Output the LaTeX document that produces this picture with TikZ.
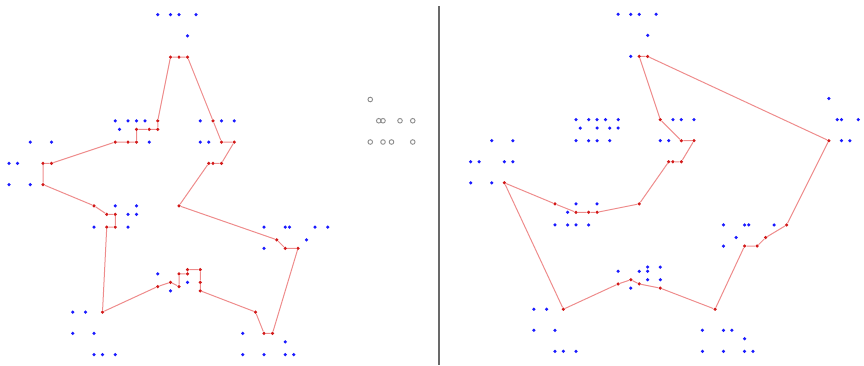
\documentclass[tikz,border=0pt]{standalone}
\begin{document}
\definecolor{dotblue}{RGB}{25,25,255}
\definecolor{dotred}{RGB}{210,25,25}
\definecolor{edgered}{RGB}{238,140,140}
\definecolor{ringgray}{RGB}{140,140,140}
\definecolor{divgray}{RGB}{105,105,105}
\tikzset{
  bdot/.style={circle, fill=dotblue, inner sep=0pt, minimum size=3.5pt},
  rdot/.style={circle, fill=dotred, inner sep=0pt, minimum size=3.5pt},
  hollow/.style={circle, draw=ringgray, line width=0.9pt, inner sep=0pt, minimum size=4.6pt},
  edge/.style={draw=edgered, line width=1pt, line join=round},
  divider/.style={draw=divgray, line width=1.4pt},
}
\begin{tikzpicture}[x=1pt, y=-1pt]
\useasboundingbox (0,0) rectangle (864,365);

% separator between the two panels
\coordinate (divtop) at (439,6);
\coordinate (divbot) at (439,365);
\draw[divider] (divtop) -- (divbot);

% ---------------- left panel ----------------
\begin{scope}[shift={(9,14.5)}, x=4.25pt, y=-4.25pt]
  \foreach \c/\r in {38/10,40/10,42/10,48/25,50/30,53/30,50/35,48/35,47/35,40/45,
      63/53,65/55,68/55,62/75,60/75,58/70,45/65,45/63,45/60,42/60,42/61,40/61,
      40/64,38/63,35/64,22/70,23/50,25/50,25/47,23/47,20/45,8/40,8/35,10/35,
      25/30,28/30,30/30,30/27,33/27,35/27,35/25}
    \node[rdot] (L-\c-\r) at (\c,\r) {};
  \foreach \c/\r in {35/0,38/0,40/0,44/0, 42/5,
      25/25,28/25,30/25,32/25,45/25,50/25,53/25, 26/27,
      5/30,10/30,33/30,45/30,47/30, 0/35,2/35, 0/40,5/40,
      25/45,30/45, 28/47,30/47,
      20/50,28/50,60/50,65/50,66/50,72/50,75/50, 70/53, 60/55,
      35/61, 42/63, 38/65, 15/70,18/70, 15/75,20/75,55/75, 65/77,
      20/80,22/80,25/80,55/80,60/80,65/80,67/80}
    \node[bdot] (L-\c-\r) at (\c,\r) {};
  \foreach \c/\r in {85/20, 87/25,88/25,92/25,95/25, 85/30,88/30,90/30,95/30}
    \node[hollow] (L-\c-\r) at (\c,\r) {};
  \draw[edge] (L-38-10) -- (L-40-10) -- (L-42-10) -- (L-48-25) -- (L-50-30)
    -- (L-53-30) -- (L-50-35) -- (L-48-35) -- (L-47-35) -- (L-40-45)
    -- (L-63-53) -- (L-65-55) -- (L-68-55) -- (L-62-75) -- (L-60-75)
    -- (L-58-70) -- (L-45-65) -- (L-45-63) -- (L-45-60) -- (L-42-60)
    -- (L-42-61) -- (L-40-61) -- (L-40-64) -- (L-38-63) -- (L-35-64)
    -- (L-22-70) -- (L-23-50) -- (L-25-50) -- (L-25-47) -- (L-23-47)
    -- (L-20-45) -- (L-8-40) -- (L-8-35) -- (L-10-35) -- (L-25-30)
    -- (L-28-30) -- (L-30-30) -- (L-30-27) -- (L-33-27) -- (L-35-27)
    -- (L-35-25) -- (L-38-10);
\end{scope}

% ---------------- right panel ----------------
\begin{scope}[shift={(470.7,14.3)}, x=4.213pt, y=-4.213pt]
  \foreach \c/\r in {40/10,42/10,85/30,75/50,70/53,68/55,65/55,58/70,45/65,
      40/64,38/63,35/64,22/70,8/40,20/45,25/47,28/47,30/47,40/45,47/35,48/35,
      50/35,53/30,50/30,45/25}
    \node[rdot] (R-\c-\r) at (\c,\r) {};
  \foreach \c/\r in {35/0,38/0,40/0,44/0, 42/5, 38/10, 85/20,
      25/25,28/25,30/25,32/25,35/25,48/25,50/25,53/25,87/25,88/25,92/25,
      26/27,30/27,33/27,35/27,
      5/30,10/30,25/30,28/30,30/30,33/30,45/30,47/30,88/30,90/30,
      0/35,2/35,8/35,10/35, 0/40,5/40, 25/45,30/45, 23/47,
      20/50,23/50,25/50,28/50,60/50,65/50,66/50,72/50, 63/53, 60/55,
      42/60,45/60, 35/61,40/61,42/61, 42/63,45/63, 38/65,
      15/70,18/70, 15/75,20/75,55/75,60/75,62/75, 65/77,
      20/80,22/80,25/80,55/80,60/80,65/80,67/80}
    \node[bdot] (R-\c-\r) at (\c,\r) {};
  \draw[edge] (R-40-10) -- (R-42-10) -- (R-85-30) -- (R-75-50) -- (R-70-53)
    -- (R-68-55) -- (R-65-55) -- (R-58-70) -- (R-45-65) -- (R-40-64)
    -- (R-38-63) -- (R-35-64) -- (R-22-70) -- (R-8-40) -- (R-20-45)
    -- (R-25-47) -- (R-28-47) -- (R-30-47) -- (R-40-45) -- (R-47-35)
    -- (R-48-35) -- (R-50-35) -- (R-53-30) -- (R-50-30) -- (R-45-25)
    -- (R-40-10);
\end{scope}
\end{tikzpicture}
\end{document}
